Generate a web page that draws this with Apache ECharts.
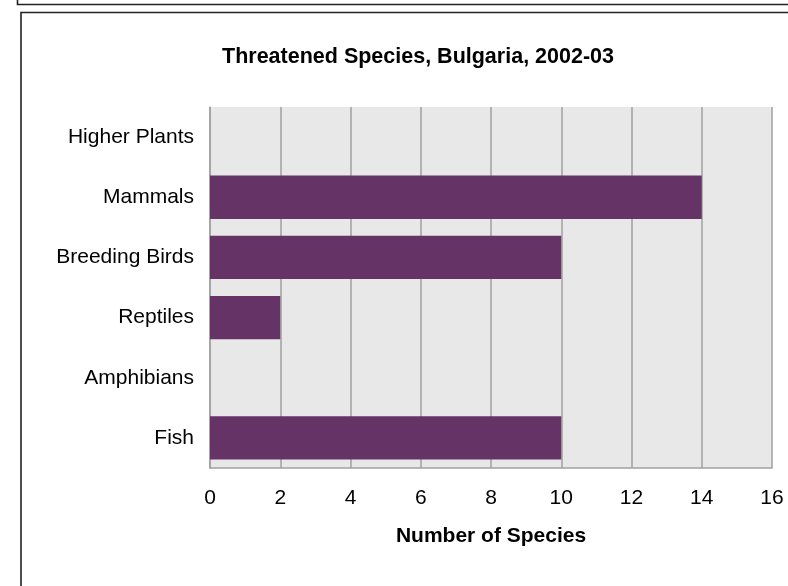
<!DOCTYPE html>
<html>
<head>
<meta charset="utf-8">
<script src="https://cdn.jsdelivr.net/npm/echarts@6/dist/echarts.min.js"></script>
<style>
html,body{margin:0;padding:0;background:#fff;}
#chart{width:788px;height:586px;}
</style>
</head>
<body>
<div id="chart"></div>
<script>
// Data (listed bottom-to-top as ECharts category axis draws first item at bottom)
const categories = ["Fish", "Amphibians", "Reptiles", "Breeding Birds", "Mammals", "Higher Plants"];
const speciesCounts = [10, 0, 2, 10, 14, 0];
const xTicks = [0, 2, 4, 6, 8, 10, 12, 14, 16];

const chart = echarts.init(document.getElementById('chart'), null, {renderer: 'canvas'});
const font = 'Arial, "Liberation Sans", sans-serif';
chart.setOption({
  animation: false,
  backgroundColor: '#ffffff',
  title: {
    text: 'Threatened Species, Bulgaria, 2002-03',
    left: 413, top: 52, textAlign: 'center', textVerticalAlign: 'middle',
    textStyle: {fontFamily: font, fontSize: 21.5, fontWeight: 'bold', color: '#000'}
  },
  graphic: [
    {type: 'polyline', shape: {points: [[17.5, 0], [17.5, 4.5], [800, 4.5]]},
     style: {stroke: '#222', lineWidth: 1.6, fill: null}, silent: true},
    {type: 'rect', shape: {x: 21, y: 12.5, width: 800, height: 600},
     style: {stroke: '#222', lineWidth: 1.6, fill: null}, silent: true}
  ],
  grid: {left: 210, right: 16, top: 107, bottom: 118, containLabel: false,
         show: true, backgroundColor: '#e8e8e8', borderWidth: 0},
  xAxis: {
    type: 'value', min: xTicks[0], max: xTicks[xTicks.length - 1], interval: 2,
    name: 'Number of Species', nameLocation: 'middle', nameGap: 58,
    nameTextStyle: {fontFamily: font, fontSize: 21, fontWeight: 'bold', color: '#000'},
    axisLine: {show: true, lineStyle: {color: '#a0a0a0', width: 1.5}},
    axisTick: {show: false},
    axisLabel: {fontFamily: font, fontSize: 21, color: '#000', margin: 20},
    splitLine: {show: true, lineStyle: {color: '#a0a0a0', width: 1.5}}
  },
  yAxis: {
    type: 'category', data: categories,
    axisLine: {show: true, lineStyle: {color: '#a0a0a0', width: 1.5}},
    axisTick: {show: false},
    axisLabel: {fontFamily: font, fontSize: 21, color: '#000', margin: 16},
    splitLine: {show: false}
  },
  series: [{
    type: 'bar', data: speciesCounts, barCategoryGap: '28%',
    itemStyle: {color: '#663366'}
  }]
});
</script>
</body>
</html>
